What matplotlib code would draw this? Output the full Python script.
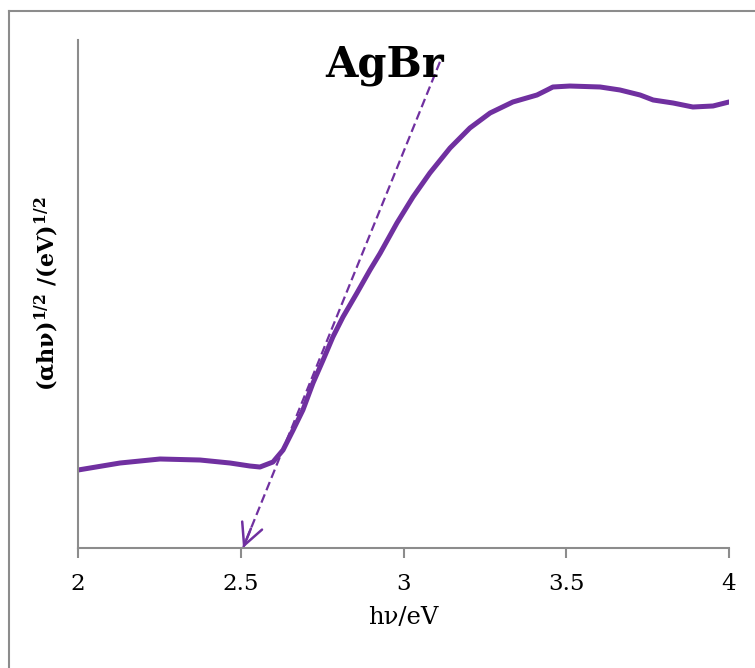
import numpy as np
import matplotlib
matplotlib.use('Agg')
import matplotlib.pyplot as plt
from matplotlib.lines import Line2D

# data (y in arbitrary units)
hv = [2.000, 2.129, 2.252, 2.375, 2.467, 2.528, 2.559, 2.599, 2.630, 2.661,
      2.691, 2.722, 2.753, 2.783, 2.814, 2.857, 2.897, 2.928, 2.980, 3.029,
      3.081, 3.143, 3.204, 3.266, 3.336, 3.410, 3.441, 3.459, 3.511, 3.604,
      3.665, 3.727, 3.767, 3.828, 3.889, 3.951, 4.000]
absorb = [1.535, 1.673, 1.752, 1.732, 1.673, 1.614, 1.594, 1.693, 1.929, 2.323,
          2.717, 3.248, 3.701, 4.154, 4.547, 5.020, 5.472, 5.800, 6.400, 6.909,
          7.382, 7.874, 8.268, 8.563, 8.780, 8.917, 9.016, 9.075, 9.094, 9.075,
          9.016, 8.917, 8.819, 8.760, 8.681, 8.701, 8.780]
tangent_start = (3.112, 9.57)
band_gap = 2.507
xticks = [2, 2.5, 3, 3.5, 4]
xticklabels = ['2', '2.5', '3', '3.5', '4']

purple = '#7030A0'
gray = '#8c8c8c'
plt.rcParams['font.family'] = ['DejaVu Serif']
plt.rcParams['mathtext.fontset'] = 'dejavuserif'

fig = plt.figure(figsize=(7.55, 6.68), dpi=100)
ax = fig.add_axes([78/755, 1 - 548/668, (729 - 78)/755, (548 - 40)/668])

ax.plot(hv, absorb, color=purple, lw=3.6, solid_capstyle='round',
        solid_joinstyle='round')

# dashed tangent line, solid open arrow head at the band gap
ax.plot([tangent_start[0], band_gap], [tangent_start[1], 0], color=purple,
        lw=1.6, linestyle=(0, (4, 2)))
t = 0.04
near = (band_gap + t * (tangent_start[0] - band_gap), t * tangent_start[1])
ax.annotate('', xy=(band_gap, 0), xytext=near,
            arrowprops=dict(arrowstyle='->,head_length=0.7,head_width=0.35',
                            color=purple, lw=1.8, mutation_scale=22,
                            shrinkA=0, shrinkB=0))

ax.set_xlim(2, 4)
ax.set_ylim(0, 10)
ax.set_xticks(xticks)
ax.set_xticklabels(xticklabels, fontsize=16.5)
ax.set_yticks([])
for s in ['top', 'right']:
    ax.spines[s].set_visible(False)
for s in ['left', 'bottom']:
    ax.spines[s].set_color(gray)
    ax.spines[s].set_linewidth(1.5)
ax.tick_params(axis='x', direction='out', length=7, width=1.5, color=gray, pad=11)

ax.set_xlabel('hν/eV', fontsize=17.5, labelpad=8)
ax.set_ylabel(r'(αhν)$^{\mathbf{1/2}}$ /(eV)$^{\mathbf{1/2}}$', fontsize=16,
              fontweight='bold', labelpad=12)
fig.text(385/755, 1 - 65/668, 'AgBr', fontsize=30, fontweight='bold',
         ha='center', va='center')

# figure border
fig.add_artist(Line2D([8.5/755, 8.5/755], [0, 1 - 11/668], color=gray, lw=1.5,
                      transform=fig.transFigure))
fig.add_artist(Line2D([8.5/755, 1], [1 - 11/668, 1 - 11/668], color=gray, lw=1.5,
                      transform=fig.transFigure))

fig.savefig('out.png', dpi=100)
